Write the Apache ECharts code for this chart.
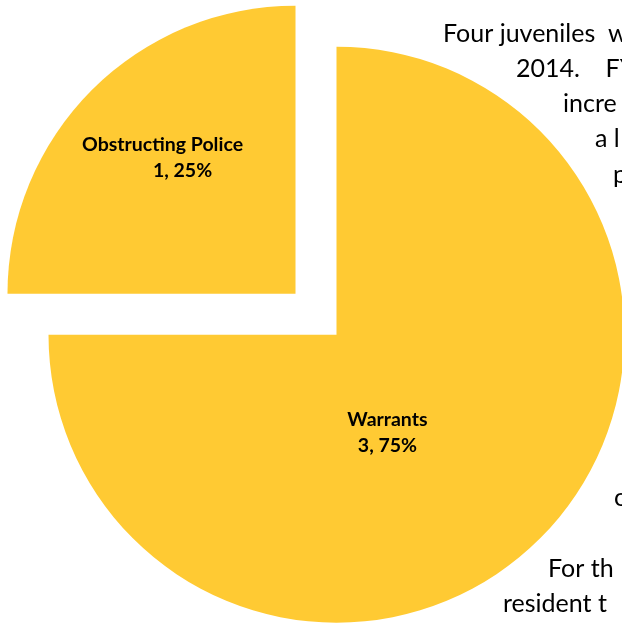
<!DOCTYPE html>
<html>
<head>
<meta charset="utf-8">
<script src="https://cdn.jsdelivr.net/npm/echarts@6/dist/echarts.min.js"></script>
<style>
  html, body { margin: 0; padding: 0; background: #ffffff; }
  #chart { width: 622px; height: 623px; }
</style>
</head>
<body>
<div id="chart"></div>
<script>
// Juvenile charges by type
const categories = ['Warrants', 'Obstructing Police'];
const counts = [3, 1];
const percents = [75, 25];

// Body text of the surrounding report, wrapping to the right of the pie
const sideText = ['Four juveniles  w', '2014.    FY', 'incre', 'a l', 'p', 'c', 'For th', 'resident t'];

const GOLD = '#FFCA33';
const labelFont = 'Lato, "Open Sans", sans-serif';
const LABEL_SIZE = 19.5;

const chart = echarts.init(document.getElementById('chart'), null, { renderer: 'canvas' });

const textX = [443, 516, 563, 595, 613, 614, 548, 503];
const textBase = [42.5, 77.7, 113, 148, 183.5, 506.7, 578, 613];

const graphicText = sideText.map((t, i) => ({
  type: 'text',
  left: textX[i],
  top: textBase[i] - 21.5,
  z: -1,
  style: {
    text: t,
    fill: '#000000',
    font: '25px Lato, "Open Sans", sans-serif'
  }
}));

const pieData = categories.map((name, i) => ({
  name: name,
  value: counts[i],
  pct: percents[i],
  selected: name === 'Obstructing Police'
}));

// per-slice nudges of the inside labels
const labelShift = {
  'Warrants': [-53, -6],
  'Obstructing Police': [-29, -32]
};

const richBase = { color: '#000', fontFamily: labelFont, fontWeight: 'bold', fontSize: LABEL_SIZE, lineHeight: 25.5 };

chart.setOption({
  animation: false,
  backgroundColor: '#ffffff',
  graphic: graphicText,
  series: [{
    type: 'pie',
    center: [336.5, 334.7],
    radius: [0, 288],
    startAngle: 90,
    clockwise: true,
    selectedMode: 'single',
    selectedOffset: 58,
    avoidLabelOverlap: false,
    itemStyle: { color: GOLD, borderWidth: 0 },
    emphasis: { disabled: true },
    label: {
      show: true,
      position: 'inside',
      color: '#000000',
      fontFamily: labelFont,
      fontWeight: 'bold',
      fontSize: LABEL_SIZE,
      lineHeight: 25.5,
      formatter: (p) => p.name === 'Obstructing Police'
        ? '{n|' + p.name + '}\n{v|' + p.value + ', ' + p.data.pct + '%}'
        : '{n|' + p.name + '}\n{n|' + p.value + ', ' + p.data.pct + '%}',
      rich: {
        n: richBase,
        v: Object.assign({}, richBase, { padding: [0, 0, 0, 40] })
      }
    },
    labelLine: { show: false },
    labelLayout: (params) => {
      const s = labelShift[categories[params.dataIndex]];
      return { dx: s[0], dy: s[1] };
    },
    data: pieData
  }]
});
</script>
</body>
</html>
